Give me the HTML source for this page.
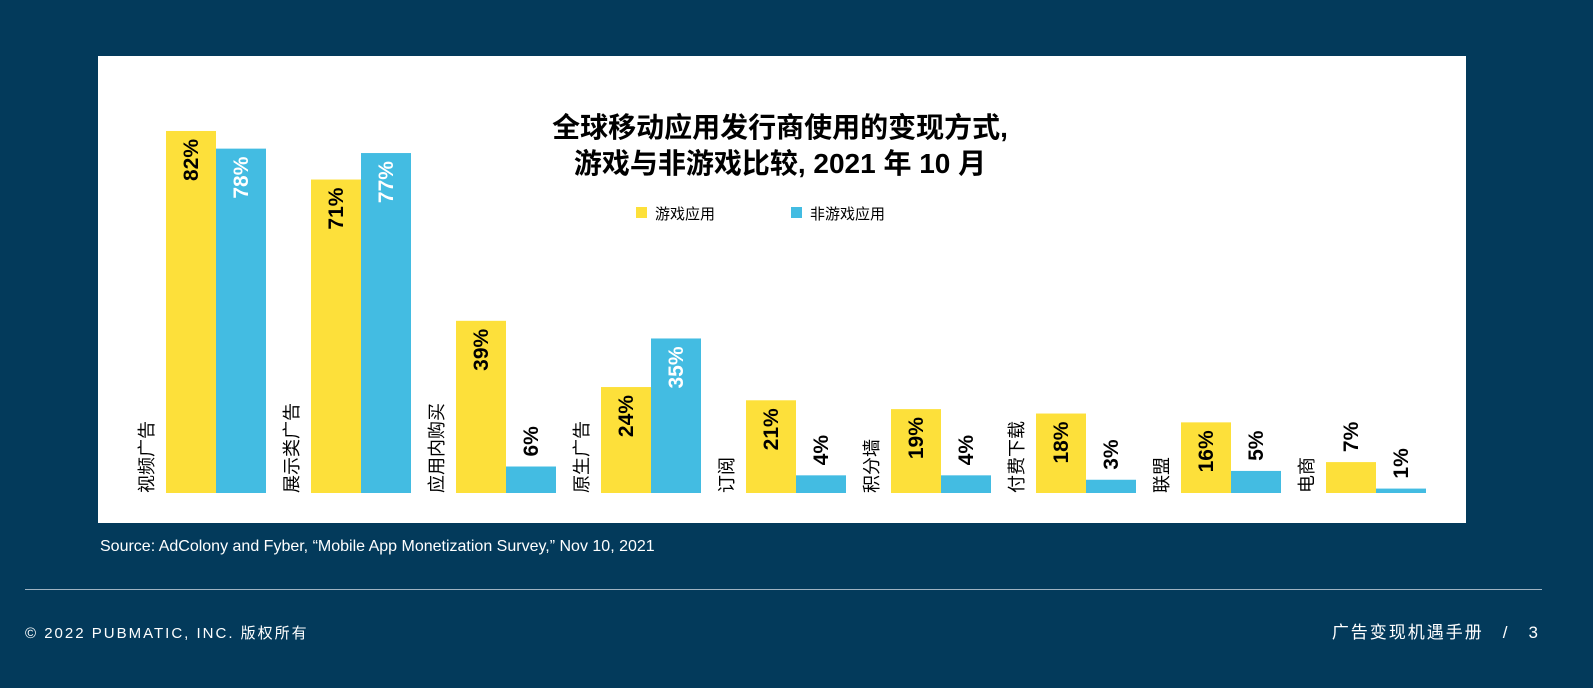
<!DOCTYPE html>
<html><head><meta charset="utf-8"><style>
html,body{margin:0;padding:0;background:#033a5b;width:1593px;height:688px;overflow:hidden;font-family:"Liberation Sans","Noto Sans CJK SC",sans-serif}
</style></head><body>
<svg width="1593" height="688" xmlns="http://www.w3.org/2000/svg" style="font-family:'Liberation Sans','Noto Sans CJK SC',sans-serif">
<rect x="0" y="0" width="1593" height="688" fill="#033a5b"/>
<rect x="98" y="56" width="1368" height="467" fill="#fff"/>
<text x="780" y="137" text-anchor="middle" font-size="28" font-weight="bold" fill="#000">全球移动应用发行商使用的变现方式,</text>
<text x="780" y="173" text-anchor="middle" font-size="28" font-weight="bold" fill="#000">游戏与非游戏比较, 2021 年 10 月</text>
<g>
<rect x="636" y="207" width="11" height="11" fill="#fde03a"/>
<text x="655" y="219" font-size="15" fill="#000">游戏应用</text>
<rect x="791" y="207" width="11" height="11" fill="#43bce2"/>
<text x="810" y="219" font-size="15" fill="#000">非游戏应用</text>
</g>
<g id="bars"></g>
<text x="100" y="551" font-size="16" fill="#fff">Source: AdColony and Fyber, “Mobile App Monetization Survey,” Nov 10, 2021</text>
<line x1="25" y1="589.5" x2="1542" y2="589.5" stroke="#9fb3c2" stroke-width="1"/>
<text x="25" y="638" font-size="15" fill="#fff" letter-spacing="2">© 2022 PUBMATIC, INC. 版权所有</text>
<text x="1540" y="638" text-anchor="end" font-size="17" fill="#fff" letter-spacing="2">广告变现机遇手册　/　3</text>
</svg>
<script>
const categories=["视频广告","展示类广告","应用内购买","原生广告","订阅","积分墙","付费下载","联盟","电商"];
const gamesValues=[82,71,39,24,21,19,18,16,7];
const nonGamesValues=[78,77,6,35,4,4,3,5,1];
const NS="http://www.w3.org/2000/svg";
const g=document.getElementById('bars');
const baseY=493,pxPer=4.415,x0=166,step=145,bw=50;
const y=v=>baseY-v*pxPer;
function mk(tag,attrs){const e=document.createElementNS(NS,tag);for(const k in attrs)e.setAttribute(k,attrs[k]);g.appendChild(e);return e;}
categories.forEach((c,i)=>{
  const gx=x0+i*step;
  const lab=mk('text',{transform:`translate(${gx-13},${baseY}) rotate(-90)`,'font-size':18,fill:'#000'});
  lab.textContent=c;
  
  
  [[gamesValues[i],'#fde03a','#000',0,'bar-games'],[nonGamesValues[i],'#43bce2','#fff',bw,'bar-nongames']].forEach(([v,col,tc,off,nm])=>{
    const bx=gx+off;
    const r=mk('rect',{x:bx,y:y(v),width:bw,height:baseY-y(v),fill:col});
    
    
    const inside=v>=10;
    const cx=bx+bw/2+7;
    let t;
    if(inside){t=mk('text',{transform:`translate(${cx},${y(v)+8}) rotate(-90)`,'text-anchor':'end','font-size':21,'font-weight':'bold',fill:tc});}
    else{t=mk('text',{transform:`translate(${cx},${y(v)-10}) rotate(-90)`,'text-anchor':'start','font-size':21,'font-weight':'bold',fill:'#000'});}
    t.textContent=v+'%';
    
    
  });
});
</script>
</body></html>
